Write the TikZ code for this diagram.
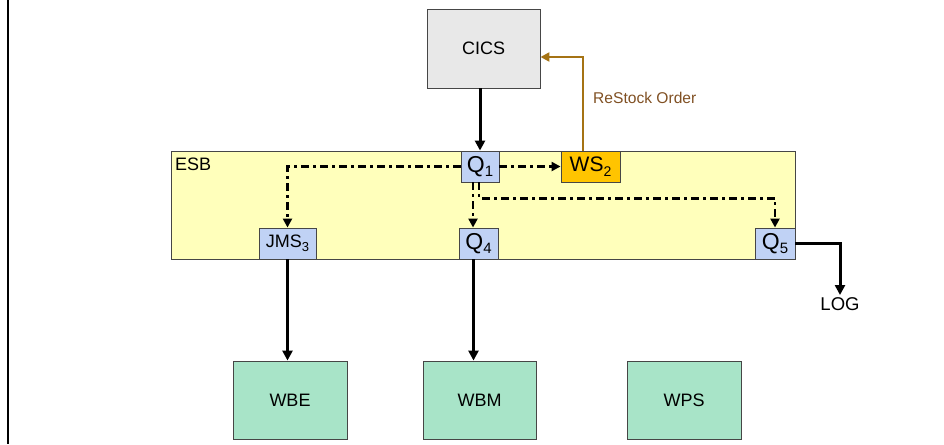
\documentclass[tikz,border=0pt]{standalone}
\usepackage{fontspec}
\setmainfont{Liberation Sans}
\usetikzlibrary{arrows.meta,calc}
\definecolor{boxgray}{RGB}{232,232,232}
\definecolor{edgegray}{RGB}{70,70,70}
\definecolor{qblue}{RGB}{192,210,245}
\definecolor{wsgold}{RGB}{255,196,0}
\definecolor{esbyellow}{RGB}{255,255,187}
\definecolor{wgreen}{RGB}{168,228,200}
\definecolor{restockline}{RGB}{165,115,20}
\definecolor{restocktext}{RGB}{128,80,35}
\newcommand{\mysub}[2][14]{\raisebox{-0.4ex}{\fontsize{#1}{#1}\selectfont #2}}
\tikzset{
  box/.style={draw=edgegray, line width=0.9pt, inner sep=0pt, align=center},
  bigbox/.style={box, minimum width=113pt, minimum height=79pt, font=\fontsize{18}{20}\selectfont},
  qbox/.style={box, fill=qblue, minimum height=31pt, font=\fontsize{23}{24}\selectfont},
  solidarrow/.style={line width=3pt, -{Triangle[length=10pt,width=10pt]}},
  dotflow/.style={line width=2.8pt, dash pattern=on 8pt off 4pt on 3pt off 4pt, -{Triangle[length=9pt,width=9pt]}},
}
\begin{document}
\begin{tikzpicture}[x=1pt,y=-1pt]
\useasboundingbox (0,0) rectangle (944,444);
\draw[line width=1.8pt] (8,0) -- (8,444);
% ESB
\node[box, fill=esbyellow, minimum width=624pt, minimum height=108pt] (esb) at (483,205) {};
\node[anchor=west, font=\fontsize{18}{20}\selectfont, inner sep=0pt] (esblabel) at (175,164) {ESB};
% top
\node[bigbox, fill=boxgray] (cics) at (483.5,48.5) {CICS};
\node[qbox, minimum width=38pt] (q1) at (480,166.5) {Q\mysub[15]{1}};
\node[qbox, fill=wsgold, minimum width=59pt, font=\fontsize{21}{22}\selectfont] (ws2) at (590.5,166.5) {WS\mysub{2}};
% inner queues
\node[qbox, minimum width=57pt, font=\fontsize{18}{20}\selectfont] (jms3) at (287.5,243.5) {JMS\mysub[13]{3}};
\node[qbox, minimum width=39pt] (q4) at (478.5,243.5) {Q\mysub[15]{4}};
\node[qbox, minimum width=40pt] (q5) at (775,243.5) {Q\mysub[15]{5}};
% bottom
\node[bigbox, fill=wgreen, minimum width=114pt, minimum height=78pt] (wbe) at (290,400) {WBE};
\node[bigbox, fill=wgreen, minimum width=113pt, minimum height=78pt] (wbm) at (479.5,400) {WBM};
\node[bigbox, fill=wgreen, minimum width=114pt, minimum height=78pt] (wps) at (684,400) {WPS};
% labels
\node[font=\fontsize{18.5}{20}\selectfont, inner sep=2pt, anchor=north] (log) at (840,295) {LOG};
\node[anchor=west, font=\fontsize{15.6}{17}\selectfont, text=restocktext, inner sep=0pt] (restock) at (593,98) {ReStock Order};
% connectors
\draw[solidarrow] (cics.south -| q1.north) -- (q1.north);
\draw[restockline, line width=2.5pt, -{Triangle[length=9pt,width=9pt]}]
  ([xshift=-7.5pt]ws2.north) |- ([yshift=-8.5pt]cics.east);
\draw[dotflow] (q1.west) -| (jms3.north);
\draw[dotflow] (q1.east) -- (ws2.west);
\draw[dotflow] ([xshift=-7pt]q1.south) -- ([xshift=-7pt]q1.south |- q4.north);
\draw[dotflow] ([xshift=-1pt]q1.south) -- ++(0,16) -| (q5.north);
\draw[solidarrow] (q5.east) -| (log.north);
\draw[solidarrow] (jms3.south) -- (jms3.south |- wbe.north);
\draw[solidarrow] ([xshift=-5pt]q4.south) -- ([xshift=-5pt]q4.south |- wbm.north);
\end{tikzpicture}
\end{document}
